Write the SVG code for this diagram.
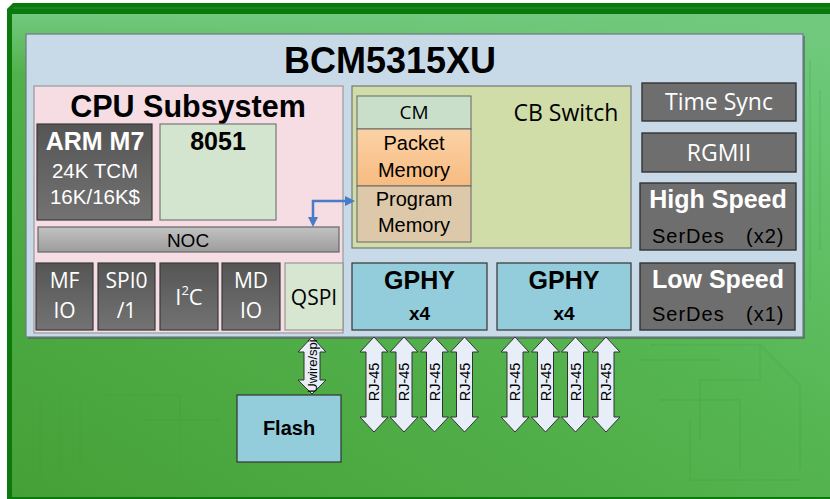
<svg xmlns="http://www.w3.org/2000/svg" width="830" height="499" viewBox="0 0 830 499">
<defs>
<linearGradient id="bg" x1="0" y1="1" x2="1" y2="0">
<stop offset="0" stop-color="#46a038"/>
<stop offset="0.55" stop-color="#55b550"/>
<stop offset="1" stop-color="#6fcb7e"/>
</linearGradient>
<linearGradient id="topband" x1="0" y1="0" x2="0" y2="1">
<stop offset="0" stop-color="#72c87e" stop-opacity="1"/>
<stop offset="1" stop-color="#72c87e" stop-opacity="0"/>
</linearGradient>
<linearGradient id="dark" x1="0" y1="0" x2="0" y2="1">
<stop offset="0" stop-color="#555555"/>
<stop offset="1" stop-color="#737373"/>
</linearGradient>
<linearGradient id="noc" x1="0" y1="0" x2="0" y2="1">
<stop offset="0" stop-color="#c2c2c2"/>
<stop offset="1" stop-color="#9c9c9c"/>
</linearGradient>
<linearGradient id="pkt" x1="0" y1="0" x2="0" y2="1">
<stop offset="0" stop-color="#fbd2a6"/>
<stop offset="1" stop-color="#f7bb80"/>
</linearGradient>
<marker id="ah" viewBox="0 0 10 10" refX="5" refY="5" markerWidth="4" markerHeight="4" orient="auto-start-reverse" markerUnits="strokeWidth">
<path d="M0,0 L10,5 L0,10 z" fill="#4a7bc6"/>
</marker>
<path id="rj" d="M0,0 L14,15 L8,15 L8,80 L14,80 L0,95 L-14,80 L-8,80 L-8,15 L-14,15 z"/>
<style>
.sans{font-family:"Liberation Sans",Arial,sans-serif}
.os{font-family:"Open Sans","Liberation Sans",sans-serif}
.b{font-weight:bold}
.w{fill:#ffffff}
.k{fill:#000000}
.dk{fill:url(#dark);stroke:#3a3a3a;stroke-width:1.2}
.gr{fill:#6e6e6e;stroke:#333;stroke-width:1.4}
.blue{fill:#93cddb;stroke:#333;stroke-width:1.2}
.arr{fill:#e8eef8;stroke:#333;stroke-width:1}
.trace{fill:none;stroke:#3f9a44;stroke-opacity:0.18;stroke-width:2}
</style>
</defs>

<!-- background frame -->
<rect x="0" y="0" width="830" height="499" fill="#ffffff"/>
<path d="M13,3 H830 V499 H7 V9 z" fill="#0b7a0d"/>
<rect x="12" y="14" width="818" height="483" fill="url(#bg)"/>
<rect x="12" y="14" width="818" height="60" fill="url(#topband)"/>
<line x1="13" y1="8" x2="830" y2="8" stroke="#2c9032" stroke-width="1"/>

<!-- faint circuit traces -->
<g id="traces">
<path class="trace" d="M650,345 H760 V380 H700 V440 M640,360 H720 M660,400 H740 V470 M690,420 V480 H800 M760,345 L800,385 V470"/>
<path class="trace" d="M40,400 V480 M60,390 V470 M80,400 V470 M100,395 H180 V470 M140,420 H220"/>
<path class="trace" d="M810,60 V300 M820,90 V250"/>
</g>

<!-- main chip -->
<g id="chip">
<rect x="28" y="36" width="777" height="303" fill="#4f5a62" opacity="0.6"/>
<rect x="26" y="34" width="777" height="303" fill="#c8dae8" stroke="#6d7a84" stroke-width="1.2"/>
<text class="sans b k" x="390" y="73" font-size="36" text-anchor="middle">BCM5315XU</text>
</g>

<!-- CPU subsystem -->
<g id="cpu">
<rect x="34" y="86" width="309" height="247" fill="#f5dde3" stroke="#999" stroke-width="1.2"/>
<text class="sans b k" x="188" y="117" font-size="30.5" text-anchor="middle">CPU Subsystem</text>
</g>
<g id="arm">
<rect class="dk" x="37" y="124" width="115" height="96"/>
<text class="sans b w" x="95" y="150" font-size="25" text-anchor="middle">ARM M7</text>
<text class="sans w" x="95" y="178" font-size="20.5" text-anchor="middle">24K TCM</text>
<text class="sans w" x="95" y="204" font-size="20.5" text-anchor="middle">16K/16K$</text>
</g>
<g id="i8051">
<rect x="160" y="124" width="116" height="96" fill="#d3e5cf" stroke="#777" stroke-width="1.2"/>
<text class="sans b k" x="218" y="150" font-size="25" text-anchor="middle">8051</text>
</g>
<g id="noc">
<rect x="38" y="227" width="301" height="25" fill="url(#noc)" stroke="#666" stroke-width="1.2"/>
<text class="sans k" x="188" y="247" font-size="19" text-anchor="middle">NOC</text>
</g>
<g id="mfio">
<rect class="dk" x="36" y="263" width="57" height="67"/>
<text class="os w" x="64.5" y="288" font-size="21" text-anchor="middle">MF</text>
<text class="os w" x="64.5" y="318" font-size="21" text-anchor="middle">IO</text>
</g>
<g id="spi">
<rect class="dk" x="98" y="263" width="57" height="67"/>
<text class="os w" x="126.5" y="288" font-size="21" text-anchor="middle">SPI0</text>
<text class="os w" x="126.5" y="318" font-size="21" text-anchor="middle">/1</text>
</g>
<g id="i2c">
<rect class="dk" x="160" y="263" width="58" height="67"/>
<text class="os w" x="189" y="305" font-size="22" text-anchor="middle">I<tspan font-size="13" dy="-10">2</tspan><tspan dy="10">C</tspan></text>
</g>
<g id="mdio">
<rect class="dk" x="222" y="263" width="58" height="67"/>
<text class="os w" x="251" y="288" font-size="21" text-anchor="middle">MD</text>
<text class="os w" x="251" y="318" font-size="21" text-anchor="middle">IO</text>
</g>
<g id="qspi">
<rect x="285" y="263" width="58" height="67" fill="#d7e6d1" stroke="#888" stroke-width="1"/>
<text class="os k" x="314" y="305" font-size="21" text-anchor="middle">QSPI</text>
</g>

<!-- CB switch -->
<g id="cbswitch">
<rect x="352" y="86" width="279" height="162" fill="#d0dda9" stroke="#777" stroke-width="1.2"/>
<text class="os k" x="566" y="121" font-size="23" text-anchor="middle">CB Switch</text>
</g>
<g id="cm">
<rect x="357" y="96" width="114" height="33" fill="#c9dfca" stroke="#666" stroke-width="1"/>
<text class="os k" x="414" y="119" font-size="19" text-anchor="middle">CM</text>
</g>
<g id="packet">
<rect x="357" y="129" width="114" height="57" fill="url(#pkt)" stroke="#666" stroke-width="1"/>
<text class="sans k" x="414" y="150" font-size="20" text-anchor="middle">Packet</text>
<text class="sans k" x="414" y="177" font-size="20" text-anchor="middle">Memory</text>
</g>
<g id="program">
<rect x="357" y="186" width="114" height="56" fill="#ddc9a9" stroke="#666" stroke-width="1"/>
<text class="sans k" x="414" y="206" font-size="20" text-anchor="middle">Program</text>
<text class="sans k" x="414" y="232" font-size="20" text-anchor="middle">Memory</text>
</g>

<!-- right column -->
<g id="timesync">
<rect class="gr" x="642" y="83" width="154" height="38"/>
<text class="os w" x="719" y="110" font-size="23" text-anchor="middle">Time Sync</text>
</g>
<g id="rgmii">
<rect class="gr" x="642" y="133" width="154" height="39"/>
<text class="os w" x="719" y="161" font-size="23" text-anchor="middle">RGMII</text>
</g>
<g id="highspeed">
<rect class="gr" x="640" y="183" width="156" height="67"/>
<text class="sans b w" x="718" y="208" font-size="25" text-anchor="middle">High Speed</text>
<text class="sans k" font-size="20" letter-spacing="1"><tspan x="652" y="243">SerDes</tspan><tspan x="746" y="243">(x2)</tspan></text>
</g>
<g id="lowspeed">
<rect class="gr" x="640" y="263" width="155" height="67"/>
<text class="sans b w" x="718" y="288" font-size="25" text-anchor="middle">Low Speed</text>
<text class="sans k" font-size="20" letter-spacing="1"><tspan x="652" y="321">SerDes</tspan><tspan x="746" y="321">(x1)</tspan></text>
</g>

<!-- GPHY -->
<g id="gphy1">
<rect class="blue" x="352" y="263" width="135" height="67"/>
<text class="sans b k" x="419.5" y="289" font-size="25" text-anchor="middle">GPHY</text>
<text class="sans b k" x="419.5" y="320" font-size="19" text-anchor="middle">x4</text>
</g>
<g id="gphy2">
<rect class="blue" x="497" y="263" width="134" height="67"/>
<text class="sans b k" x="564" y="289" font-size="25" text-anchor="middle">GPHY</text>
<text class="sans b k" x="564" y="320" font-size="19" text-anchor="middle">x4</text>
</g>

<!-- Flash -->
<g id="flash">
<rect class="blue" x="237" y="395" width="104" height="67"/>
<text class="sans b k" x="289" y="435" font-size="20" text-anchor="middle">Flash</text>
</g>

<!-- connectors -->
<g id="connectors">
<polyline points="313,222 313,201 350,201" fill="none" stroke="#4a7bc6" stroke-width="2.5" marker-start="url(#ah)" marker-end="url(#ah)"/>
<path class="arr" d="M312,337 L326,352 L320,352 L320,380 L326,380 L312,394 L298,380 L304,380 L304,352 L298,352 z"/>
<text class="sans k" transform="translate(317,366) rotate(-90)" font-size="13" text-anchor="middle">Uwire/spi</text>
<use href="#rj" class="arr" x="374" y="337"/>
<use href="#rj" class="arr" x="404" y="337"/>
<use href="#rj" class="arr" x="434.5" y="337"/>
<use href="#rj" class="arr" x="464.5" y="337"/>
<use href="#rj" class="arr" x="515" y="337"/>
<use href="#rj" class="arr" x="545.5" y="337"/>
<use href="#rj" class="arr" x="575.5" y="337"/>
<use href="#rj" class="arr" x="606" y="337"/>
<g class="sans k" font-size="14.5" text-anchor="middle">
<text transform="translate(379,382) rotate(-90)">RJ-45</text>
<text transform="translate(409,382) rotate(-90)">RJ-45</text>
<text transform="translate(439.5,382) rotate(-90)">RJ-45</text>
<text transform="translate(469.5,382) rotate(-90)">RJ-45</text>
<text transform="translate(520,382) rotate(-90)">RJ-45</text>
<text transform="translate(550.5,382) rotate(-90)">RJ-45</text>
<text transform="translate(580.5,382) rotate(-90)">RJ-45</text>
<text transform="translate(611,382) rotate(-90)">RJ-45</text>
</g>
</g>
</svg>
